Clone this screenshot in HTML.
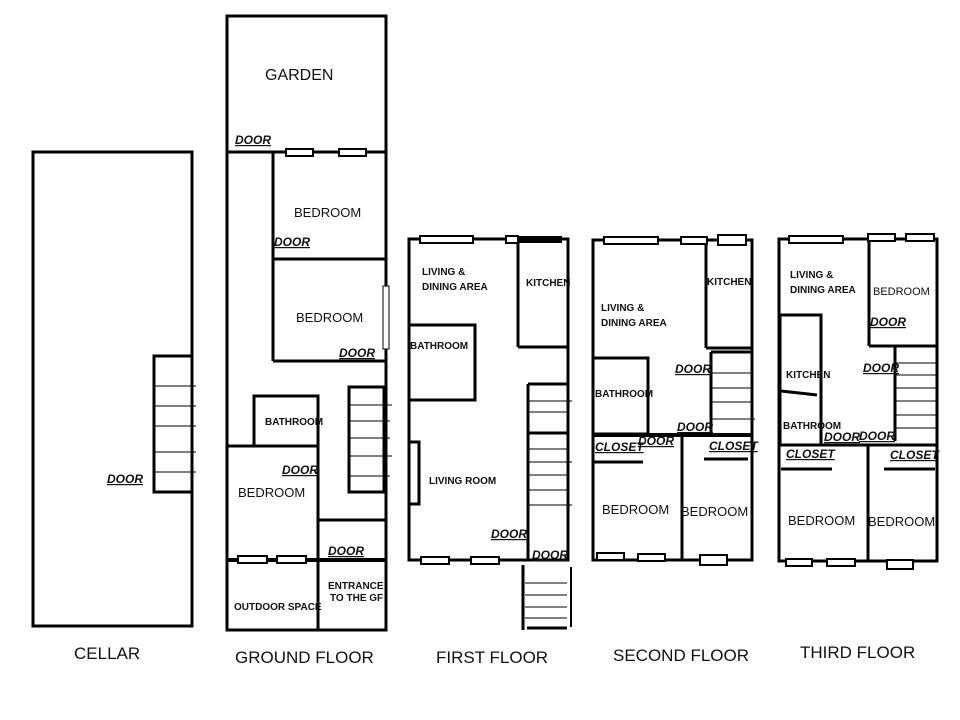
<!DOCTYPE html>
<html><head><meta charset="utf-8"><style>
html,body{margin:0;padding:0;background:#fff;}
svg{display:block}
text{font-family:"Liberation Sans",sans-serif;fill:#111}
.b{font-weight:bold;font-size:10px}
.d{font-weight:bold;font-style:italic;font-size:12px;text-decoration:underline}
.r{font-size:13px}
.t{font-size:17px}
</style></head><body>
<svg width="960" height="720" viewBox="0 0 960 720" xmlns="http://www.w3.org/2000/svg">
<g fill="none" stroke="#000" stroke-width="3">
<!-- CELLAR -->
<rect x="33" y="152" width="159" height="474"/>
<rect x="154" y="356" width="38" height="136"/>
</g>
<g stroke="#000" stroke-width="1">
<line x1="154" y1="386" x2="196" y2="386"/><line x1="154" y1="406" x2="196" y2="406"/><line x1="154" y1="426" x2="196" y2="426"/><line x1="154" y1="452" x2="196" y2="452"/><line x1="154" y1="472" x2="196" y2="472"/>
</g>
<text x="107" y="483" class="d">DOOR</text>

<!-- GROUND FLOOR -->
<g fill="none" stroke="#000" stroke-width="3">
<rect x="227" y="16" width="159" height="614"/>
<line x1="227" y1="152" x2="386" y2="152"/>
<line x1="273" y1="152" x2="273" y2="361"/>
<line x1="273" y1="259" x2="386" y2="259"/>
<line x1="273" y1="361" x2="386" y2="361"/>
<rect x="254" y="396" width="64" height="50"/>
<line x1="227" y1="446" x2="318" y2="446"/>
<line x1="318" y1="396" x2="318" y2="630"/>
<rect x="349" y="387" width="35" height="105"/>
<line x1="318" y1="520" x2="386" y2="520"/>
<line x1="227" y1="560" x2="386" y2="560" stroke-width="4"/>
</g>
<g fill="#fff" stroke="#000" stroke-width="2">
<rect x="286" y="149" width="27" height="7"/><rect x="339" y="149" width="27" height="7"/>
<rect x="383" y="286" width="6" height="63" stroke-width="1"/>
<rect x="238" y="556" width="29" height="7"/><rect x="277" y="556" width="29" height="7"/>
</g>
<g stroke="#000" stroke-width="1">
<line x1="349" y1="405" x2="392" y2="405"/><line x1="349" y1="421" x2="390" y2="421"/><line x1="349" y1="438" x2="390" y2="438"/><line x1="349" y1="456" x2="392" y2="456"/><line x1="349" y1="476" x2="390" y2="476"/>
</g>
<text x="265" y="80" font-size="16">GARDEN</text>
<text x="235" y="144" class="d">DOOR</text>
<text x="294" y="217" class="r">BEDROOM</text>
<text x="274" y="246" class="d">DOOR</text>
<text x="296" y="322" class="r">BEDROOM</text>
<text x="339" y="357" class="d">DOOR</text>
<text x="265" y="425" class="b" font-size="9">BATHROOM</text>
<text x="282" y="474" class="d">DOOR</text>
<text x="238" y="497" class="r">BEDROOM</text>
<text x="328" y="555" class="d">DOOR</text>
<text x="328" y="589" class="b" font-size="9">ENTRANCE</text>
<text x="330" y="601" class="b" font-size="9">TO THE GF</text>
<text x="234" y="610" class="b" font-size="9">OUTDOOR SPACE</text>

<!-- FIRST FLOOR -->
<g fill="none" stroke="#000" stroke-width="3">
<rect x="409" y="239" width="159" height="321"/>
<line x1="518" y1="239" x2="518" y2="347"/>
<line x1="518" y1="347" x2="568" y2="347"/>
<rect x="409" y="325" width="66" height="75"/>
<line x1="528" y1="384" x2="528" y2="560"/>
<line x1="528" y1="384" x2="568" y2="384"/>
<line x1="528" y1="433" x2="568" y2="433"/>
<rect x="409" y="442" width="10" height="62"/>
<line x1="523" y1="565" x2="523" y2="630"/>
<line x1="571" y1="567" x2="571" y2="627" stroke-width="2"/>
<line x1="527" y1="628" x2="567" y2="628"/>
</g>
<g fill="#fff" stroke="#000" stroke-width="2">
<rect x="420" y="236" width="53" height="7"/><rect x="506" y="236" width="12" height="7"/>
<rect x="421" y="557" width="28" height="7"/><rect x="471" y="557" width="28" height="7"/>
</g>
<rect x="517" y="236" width="45" height="7" fill="#000"/>
<g stroke="#000" stroke-width="1">
<line x1="528" y1="401" x2="572" y2="401"/><line x1="528" y1="412" x2="568" y2="412"/><line x1="528" y1="449" x2="568" y2="449"/><line x1="528" y1="462" x2="572" y2="462"/><line x1="528" y1="475" x2="568" y2="475"/><line x1="528" y1="490" x2="568" y2="490"/><line x1="528" y1="505" x2="572" y2="505"/>
<line x1="525" y1="583" x2="567" y2="583"/><line x1="525" y1="595" x2="567" y2="595"/><line x1="525" y1="607" x2="567" y2="607"/><line x1="525" y1="618" x2="567" y2="618"/>
</g>
<text x="422" y="275" class="b">LIVING &amp;</text>
<text x="422" y="290" class="b">DINING AREA</text>
<text x="526" y="286" class="b">KITCHEN</text>
<text x="410" y="349" class="b">BATHROOM</text>
<text x="429" y="484" class="b" font-size="12">LIVING ROOM</text>
<text x="491" y="538" class="d">DOOR</text>
<text x="532" y="559" class="d" font-size="11">DOOR</text>

<!-- SECOND FLOOR -->
<g fill="none" stroke="#000" stroke-width="3">
<rect x="593" y="240" width="159" height="320"/>
<line x1="706" y1="240" x2="706" y2="348"/>
<line x1="706" y1="348" x2="752" y2="348"/>
<line x1="711" y1="352" x2="711" y2="434"/>
<line x1="711" y1="352" x2="752" y2="352"/>
<rect x="593" y="358" width="55" height="76"/>
<line x1="593" y1="435" x2="752" y2="435" stroke-width="4"/>
<line x1="682" y1="436" x2="682" y2="560"/>
<line x1="593" y1="462" x2="643" y2="462"/>
<line x1="704" y1="459" x2="748" y2="459"/>
</g>
<g fill="#fff" stroke="#000" stroke-width="2">
<rect x="604" y="237" width="54" height="7"/><rect x="681" y="237" width="26" height="7"/><rect x="718" y="235" width="28" height="10"/>
<rect x="597" y="553" width="27" height="7"/><rect x="638" y="554" width="27" height="7"/><rect x="700" y="555" width="27" height="10"/>
</g>
<g stroke="#000" stroke-width="1">
<line x1="711" y1="373" x2="752" y2="373"/><line x1="711" y1="388" x2="752" y2="388"/><line x1="711" y1="402" x2="752" y2="402"/><line x1="711" y1="419" x2="755" y2="419"/>
</g>
<text x="707" y="285" class="b">KITCHEN</text>
<text x="601" y="311" class="b">LIVING &amp;</text>
<text x="601" y="326" class="b">DINING AREA</text>
<text x="675" y="373" class="d" font-size="11">DOOR</text>
<text x="595" y="397" class="b" font-size="9">BATHROOM</text>
<text x="677" y="431" class="d" font-size="11">DOOR</text>
<text x="638" y="445" class="d" font-size="11">DOOR</text>
<text x="595" y="451" class="d" font-size="10">CLOSET</text>
<text x="709" y="450" class="d" font-size="10">CLOSET</text>
<text x="602" y="514" class="r">BEDROOM</text>
<text x="681" y="516" class="r">BEDROOM</text>

<!-- THIRD FLOOR -->
<g fill="none" stroke="#000" stroke-width="3">
<rect x="779" y="239" width="158" height="322"/>
<line x1="869" y1="239" x2="869" y2="346"/>
<line x1="869" y1="346" x2="937" y2="346"/>
<line x1="895" y1="346" x2="895" y2="441"/>
<rect x="780" y="315" width="41" height="130"/>
<line x1="781" y1="391" x2="817" y2="395"/>
<line x1="779" y1="445" x2="937" y2="445"/>
<line x1="868" y1="445" x2="868" y2="561"/>
<line x1="781" y1="469" x2="832" y2="469"/>
<line x1="884" y1="469" x2="935" y2="469"/>
</g>
<g fill="#fff" stroke="#000" stroke-width="2">
<rect x="789" y="236" width="54" height="7"/><rect x="868" y="234" width="27" height="7"/><rect x="906" y="234" width="28" height="7"/>
<rect x="786" y="559" width="26" height="7"/><rect x="827" y="559" width="28" height="7"/><rect x="887" y="560" width="26" height="9"/>
</g>
<g stroke="#000" stroke-width="1">
<line x1="895" y1="363" x2="937" y2="363"/><line x1="895" y1="375" x2="937" y2="375"/><line x1="895" y1="388" x2="937" y2="388"/><line x1="895" y1="401" x2="937" y2="401"/><line x1="895" y1="415" x2="937" y2="415"/><line x1="895" y1="428" x2="937" y2="428"/>
</g>
<text x="790" y="278" class="b">LIVING &amp;</text>
<text x="790" y="293" class="b">DINING AREA</text>
<text x="873" y="295" font-size="11">BEDROOM</text>
<text x="870" y="326" class="d" font-size="11">DOOR</text>
<text x="863" y="372" class="d" font-size="11">DOOR</text>
<text x="786" y="378" class="b">KITCHEN</text>
<text x="783" y="429" class="b" font-size="9">BATHROOM</text>
<text x="824" y="441" class="d" font-size="11">DOOR</text>
<text x="859" y="440" class="d" font-size="11">DOOR</text>
<text x="786" y="458" class="d" font-size="10">CLOSET</text>
<text x="890" y="459" class="d" font-size="10">CLOSET</text>
<text x="788" y="525" class="r">BEDROOM</text>
<text x="868" y="526" class="r">BEDROOM</text>

<!-- LABELS -->
<text x="74" y="659" class="t">CELLAR</text>
<text x="235" y="663" class="t">GROUND  FLOOR</text>
<text x="436" y="663" class="t">FIRST FLOOR</text>
<text x="613" y="661" class="t">SECOND FLOOR</text>
<text x="800" y="658" class="t">THIRD FLOOR</text>
</svg>
</body></html>
